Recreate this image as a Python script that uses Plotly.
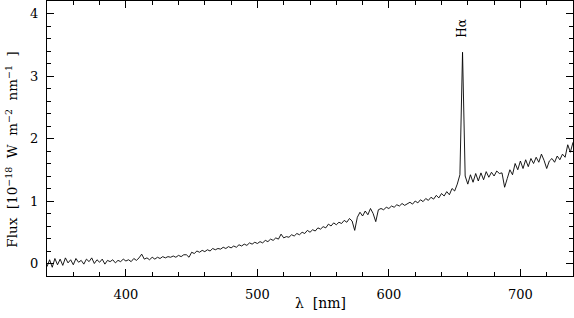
import plotly.graph_objects as go

# wavelength grid (nm), 2 nm steps
wavelength = list(range(340, 742, 2))

# flux values (10^-18 W m^-2 nm^-1), 10 per row
flux = [
    -0.05, 0.06, -0.06, 0.08, -0.02, 0.07, -0.03, 0.09, 0.01, 0.06,   # 340-358
    -0.02, 0.08, 0.02, 0.05, -0.01, 0.07, 0.03, 0.09, 0.00, 0.06,     # 360-378
    0.02, 0.07, -0.01, 0.05, 0.03, 0.06, 0.01, 0.05, 0.03, 0.07,      # 380-398
    0.04, 0.06, 0.03, 0.08, 0.05, 0.09, 0.15, 0.07, 0.09, 0.06,       # 400-418
    0.10, 0.07, 0.10, 0.08, 0.11, 0.09, 0.11, 0.10, 0.12, 0.10,       # 420-438
    0.13, 0.11, 0.14, 0.14, 0.10, 0.18, 0.16, 0.20, 0.18, 0.21,       # 440-458
    0.19, 0.22, 0.20, 0.24, 0.22, 0.24, 0.23, 0.26, 0.24, 0.27,       # 460-478
    0.25, 0.28, 0.26, 0.30, 0.28, 0.31, 0.29, 0.33, 0.31, 0.34,       # 480-498
    0.32, 0.35, 0.33, 0.37, 0.35, 0.39, 0.37, 0.41, 0.39, 0.47,       # 500-518
    0.41, 0.43, 0.42, 0.46, 0.44, 0.48, 0.46, 0.50, 0.48, 0.53,       # 520-538
    0.50, 0.54, 0.52, 0.57, 0.55, 0.59, 0.57, 0.63, 0.60, 0.65,       # 540-558
    0.62, 0.66, 0.64, 0.69, 0.66, 0.72, 0.68, 0.53, 0.74, 0.82,       # 560-578
    0.76, 0.84, 0.78, 0.88, 0.80, 0.67, 0.86, 0.88, 0.86, 0.90,       # 580-598
    0.88, 0.92, 0.90, 0.94, 0.92, 0.96, 0.93, 0.95, 0.98, 0.95,       # 600-618
    1.00, 0.97, 1.02, 0.99, 1.04, 1.01, 1.06, 1.03, 1.09, 1.05,       # 620-638
    1.12, 1.08, 1.15, 1.10, 1.20, 1.16, 1.27, 1.42, 3.38, 1.40,       # 640-658
    1.27, 1.42, 1.30, 1.44, 1.32, 1.45, 1.34, 1.47, 1.38, 1.46,       # 660-678
    1.40, 1.48, 1.44, 1.45, 1.22, 1.36, 1.50, 1.42, 1.60, 1.50,       # 680-698
    1.64, 1.52, 1.66, 1.55, 1.68, 1.60, 1.70, 1.62, 1.75, 1.65,       # 700-718
    1.52, 1.64, 1.68, 1.62, 1.72, 1.66, 1.75, 1.70, 1.90, 1.78,       # 720-738
    1.94,                                                             # 740
]
assert len(flux) == len(wavelength)

x_ticks = [400, 500, 600, 700]
y_ticks = [0, 1, 2, 3, 4]
line_label = "Hα"
line_wavelength = 655
line_label_flux = 3.76

font = "DejaVu Serif"

fig = go.Figure()
fig.add_trace(go.Scatter(
    x=wavelength, y=flux, mode="lines",
    line=dict(color="black", width=0.9),
    hoverinfo="skip", showlegend=False,
))

axis_common = dict(
    showline=True, linecolor="black", linewidth=1, mirror="allticks",
    ticks="inside", ticklen=7, tickwidth=1, tickcolor="black",
    showgrid=False, zeroline=False,
    tickfont=dict(family=font, size=13, color="black"),
)

fig.update_xaxes(
    range=[340, 740], tickvals=x_ticks, ticklabelstandoff=6,
    minor=dict(ticks="inside", ticklen=4, dtick=20, tick0=0, tickcolor="black", showgrid=False),
    **axis_common,
)
fig.update_yaxes(
    range=[-0.2, 4.2], tickvals=y_ticks, ticklabelstandoff=5,
    minor=dict(ticks="inside", ticklen=4, dtick=0.2, tick0=0, tickcolor="black", showgrid=False),
    **axis_common,
)

fig.add_annotation(
    x=line_wavelength, y=line_label_flux, xref="x", yref="y",
    text=line_label, textangle=-90, showarrow=False,
    font=dict(family=font, size=12, color="black"),
)
fig.add_annotation(
    x=-0.068, y=0.46, xref="paper", yref="paper",
    text="Flux  [10<sup>−18</sup>  W  m<sup>−2</sup>  nm<sup>−1</sup>  ]",
    textangle=-90, showarrow=False, xanchor="center", yanchor="middle",
    font=dict(family=font, size=13.5, color="black"),
)
fig.add_annotation(
    x=0.52, y=-0.098, xref="paper", yref="paper",
    text="λ  [nm]", showarrow=False, xanchor="center", yanchor="middle",
    font=dict(family=font, size=14, color="black"),
)

fig.update_layout(
    width=574, height=318,
    margin=dict(l=47, r=1, t=1, b=42),
    plot_bgcolor="white", paper_bgcolor="white",
)

fig.write_html(
    "out.html",
    config={"displayModeBar": False},
    post_script="document.body.style.margin='0px';document.body.style.padding='0px';",
)
